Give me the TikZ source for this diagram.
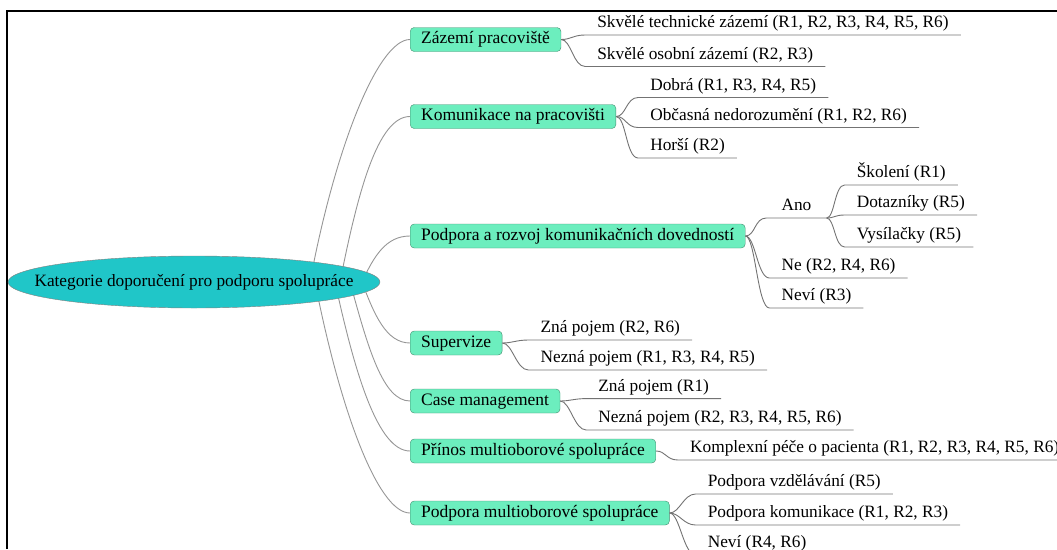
\documentclass[tikz,border=0pt]{standalone}
\usepackage{fontspec}
\setmainfont{Liberation Serif}
\usetikzlibrary{shapes.geometric, calc, backgrounds}

\definecolor{rootcyan}{RGB}{32,198,200}
\definecolor{boxmint}{RGB}{108,238,190}
\definecolor{boxedge}{RGB}{70,140,112}
\definecolor{branchgray}{RGB}{150,150,150}
\definecolor{leafgray}{RGB}{115,115,115}

\begin{document}
\begin{tikzpicture}[x=1pt, y=-1pt]
\tikzset{ txt/.style={font=\fontsize{17.3}{20}\selectfont},
  rootnode/.style={txt, ellipse, fill=rootcyan, draw=gray, minimum width=372pt, minimum height=52pt, inner sep=0pt},
  topic/.style={anchor=west, font=\fontsize{17.5}{20}\selectfont, rounded corners=4pt, fill=boxmint, draw=boxedge, inner xsep=11pt, inner ysep=4pt, text height=12pt, text depth=4pt},
  leafnode/.style={txt, anchor=south west, inner xsep=12pt, inner ysep=3pt, text height=12pt, text depth=4pt},
  branchline/.style={branchgray, line width=0.9pt},
  twigline/.style={leafgray, line width=0.9pt},
}

\useasboundingbox (0,0) rectangle (1057,549);
%\draw [lightgray, dashed] (0,0) grid [xstep=50, ystep=50] (1057,549);

\draw [line width=2pt] (7,549) -- (7,11) -- (1057,11);

\node [rootnode] (R) at (194,282) {\makebox[0pt]{Kategorie doporučení pro podporu spolupráce}};

\node [topic] (Z) at (410,39.5)  {Zázemí pracoviště};
\node [topic] (K) at (410,116.5) {Komunikace na pracovišti};
\node [topic] (P) at (410,236)   {Podpora a rozvoj komunikačních dovedností};
\node [topic] (S) at (410,343)   {Supervize};
\node [topic] (C) at (410,401)   {Case management};
\node [topic] (M) at (410,451)   {Přínos multioborové spolupráce};
\node [topic] (N) at (410,513)   {Podpora multioborové spolupráce};

\begin{scope}[on background layer]
\draw [branchline] ($(R)+(116,0)$) .. controls +(25,-134) and +(-32,0) .. (Z.west);
\draw [branchline] ($(R)+(146,0)$) .. controls +(18,-91) and +(-32,0) .. (K.west);
\draw [branchline] ($(R)+(168,0)$) .. controls +(12,-26) and +(-24,0) .. (P.west);
\draw [branchline] ($(R)+(168,0)$) .. controls +(12,32) and +(-24,0) .. (S.west);
\draw [branchline] ($(R)+(156,0)$) .. controls +(18,66) and +(-27,0) .. (C.west);
\draw [branchline] ($(R)+(141,0)$) .. controls +(20,92) and +(-32,0) .. (M.west);
\draw [branchline] ($(R)+(121,0)$) .. controls +(25,128) and +(-32,0) .. (N.west);
\end{scope}

\node [leafnode] (Z1) at ($(Z.east)+(24,-4.5)$) {Skvělé technické zázemí (R1, R2, R3, R4, R5, R6)};
\node [leafnode] (Z2) at ($(Z.east)+(24,27)$)   {Skvělé osobní zázemí (R2, R3)};

\node [leafnode] (K1) at ($(K.east)+(22,-19)$)  {Dobrá (R1, R3, R4, R5)};
\node [leafnode] (K2) at ($(K.east)+(22,11)$)   {Občasná nedorozumění (R1, R2, R6)};
\node [leafnode] (K3) at ($(K.east)+(22,41.5)$) {Horší (R2)};

\node [leafnode, inner xsep=15pt] (A) at ($(P.east)+(21,-18)$) {Ano};
\node [leafnode] (A1) at ($(A.south east)+(18,-33)$) {Školení (R1)};
\node [leafnode] (A2) at ($(A.south east)+(18,-3)$)  {Dotazníky (R5)};
\node [leafnode] (A3) at ($(A.south east)+(18,29)$)  {Vysílačky (R5)};
\node [leafnode] (P2) at ($(P.east)+(24,42)$) {Ne (R2, R4, R6)};
\node [leafnode] (P3) at ($(P.east)+(24,72)$) {Neví (R3)};

\node [leafnode] (S1) at ($(S.east)+(26,-3)$) {Zná pojem (R2, R6)};
\node [leafnode] (S2) at ($(S.east)+(26,27)$) {Nezná pojem (R1, R3, R4, R5)};

\node [leafnode] (C1) at ($(C.east)+(26,-2.4)$) {Zná pojem (R1)};
\node [leafnode] (C2) at ($(C.east)+(26,29)$)   {Nezná pojem (R2, R3, R4, R5, R6)};

\node [leafnode] (M1) at ($(M.east)+(22,9)$) {Komplexní péče o pacienta (R1, R2, R3, R4, R5, R6)};

\node [leafnode] (N1) at ($(N.east)+(26,-19)$) {Podpora vzdělávání (R5)};
\node [leafnode] (N2) at ($(N.east)+(26,12)$)  {Podpora komunikace (R1, R2, R3)};
\node [leafnode] (N3) at ($(N.east)+(26,42)$)  {Neví (R4, R6)};

\draw [twigline] (Z.east) .. controls +(10,0) and +(-12,0) .. (Z1.south west) -- (Z1.south east);
\draw [twigline] (Z.east) .. controls +(10,0) and +(-12,0) .. (Z2.south west) -- (Z2.south east);

\draw [twigline] (K.east) .. controls +(10,0) and +(-12,0) .. (K1.south west) -- (K1.south east);
\draw [twigline] (K.east) .. controls +(10,0) and +(-12,0) .. (K2.south west) -- (K2.south east);
\draw [twigline] (K.east) .. controls +(10,0) and +(-12,0) .. (K3.south west) -- (K3.south east);

\draw [twigline] (P.east) .. controls +(10,0) and +(-12,0) .. (A.south west) -- (A.south east);
\draw [twigline] (P.east) .. controls +(10,0) and +(-12,0) .. (P2.south west) -- (P2.south east);
\draw [twigline] (P.east) .. controls +(10,0) and +(-12,0) .. (P3.south west) -- (P3.south east);

\draw [twigline] (A.south east) .. controls +(8,0) and +(-10,0) .. (A1.south west) -- (A1.south east);
\draw [twigline] (A.south east) .. controls +(8,0) and +(-10,0) .. (A2.south west) -- (A2.south east);
\draw [twigline] (A.south east) .. controls +(8,0) and +(-10,0) .. (A3.south west) -- (A3.south east);

\draw [twigline] (S.east) .. controls +(10,0) and +(-12,0) .. (S1.south west) -- (S1.south east);
\draw [twigline] (S.east) .. controls +(10,0) and +(-12,0) .. (S2.south west) -- (S2.south east);

\draw [twigline] (C.east) .. controls +(10,0) and +(-12,0) .. (C1.south west) -- (C1.south east);
\draw [twigline] (C.east) .. controls +(10,0) and +(-12,0) .. (C2.south west) -- (C2.south east);

\draw [twigline] (M.east) .. controls +(10,0) and +(-12,0) .. (M1.south west) -- (M1.south east);

\draw [twigline] (N.east) .. controls +(10,0) and +(-12,0) .. (N1.south west) -- (N1.south east);
\draw [twigline] (N.east) .. controls +(10,0) and +(-12,0) .. (N2.south west) -- (N2.south east);
\draw [twigline] (N.east) .. controls +(10,0) and +(-12,0) .. (N3.south west) -- (N3.south east);

\end{tikzpicture}
\end{document}
